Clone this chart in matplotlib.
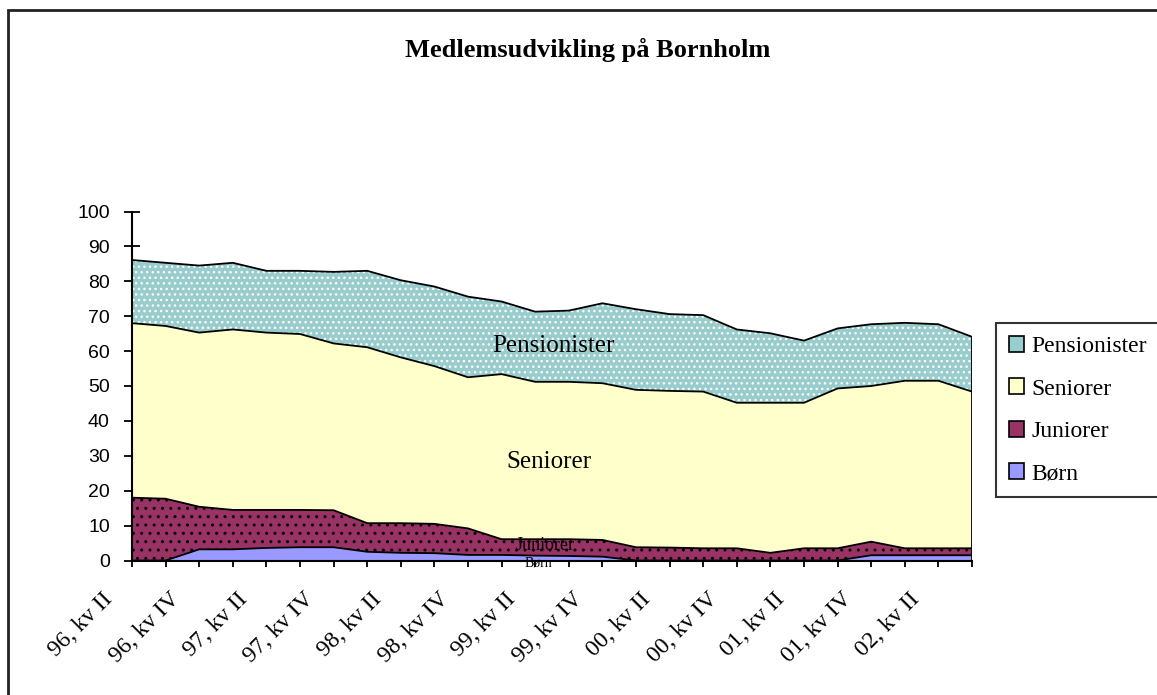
import numpy as np
import matplotlib
matplotlib.use("Agg")
import matplotlib.pyplot as plt
from matplotlib.patches import Patch, Rectangle
from matplotlib.transforms import ScaledTranslation

# ---------------- data ----------------
categories = [
    "96, kv II", "96, kv III", "96, kv IV",
    "97, kv I", "97, kv II", "97, kv III", "97, kv IV",
    "98, kv I", "98, kv II", "98, kv III", "98, kv IV",
    "99, kv I", "99, kv II", "99, kv III", "99, kv IV",
    "00, kv I", "00, kv II", "00, kv III", "00, kv IV",
    "01, kv I", "01, kv II", "01, kv III", "01, kv IV",
    "02, kv I", "02, kv II", "02, kv III",
]
born = [0.0, 0.0, 3.2, 3.2, 3.6, 3.8, 3.8, 2.5, 2.2, 2.1, 1.6, 1.6, 1.4,
        1.3, 1.1, 0.0, 0.0, 0.0, 0.0, 0.0, 0.0, 0.0, 1.5, 1.5, 1.5, 1.5]
juniorer = [18.0, 17.7, 12.2, 11.3, 10.9, 10.7, 10.6, 8.2, 8.5, 8.4, 7.6, 4.5, 4.7,
            4.8, 4.8, 3.8, 3.7, 3.5, 3.5, 2.2, 3.5, 3.5, 3.9, 2.0, 2.0, 2.0]
seniorer = [50.0, 49.5, 49.9, 51.7, 50.8, 50.4, 47.8, 50.4, 47.5, 45.2, 43.3, 47.3, 45.1,
            45.1, 44.9, 45.1, 44.9, 44.9, 41.7, 43.0, 41.7, 45.8, 44.6, 48.0, 48.0, 44.9]
pensionister = [18.1, 18.1, 19.2, 19.1, 17.7, 18.1, 20.5, 21.9, 22.1, 22.8, 23.1, 20.8, 20.1,
                20.4, 22.9, 23.1, 22.0, 21.9, 21.0, 19.9, 17.8, 17.2, 17.7, 16.6, 16.2, 15.7]
series_names = ["Børn", "Juniorer", "Seniorer", "Pensionister"]
yticks = list(range(0, 101, 10))
title = "Medlemsudvikling på Bornholm"

# ---------------- style ----------------
colors = ["#9999FF", "#993366", "#FFFFCC", "#99CCCC"]
hatches = [None, "..", None, "..."]
hatch_colors = [None, "black", None, "white"]
serif = ["Liberation Serif", "DejaVu Serif"]
sans = ["Liberation Sans", "DejaVu Sans"]

W, H = 1157, 695
fig = plt.figure(figsize=(W / 100, H / 100), dpi=100)
fig.patch.set_facecolor("white")
ax = fig.add_axes([132 / W, 1 - 560.5 / H, (972 - 132) / W, (560.5 - 211.5) / H])
ax.set_facecolor("none")

x = np.arange(len(categories))
stack = np.vstack([born, juniorer, seniorer, pensionister])
cum = stack.cumsum(axis=0)

for k in range(4):
    base = cum[k - 1] if k > 0 else np.zeros(len(x))
    top = cum[k]
    if hatches[k]:
        ax.fill_between(x, base, top, facecolor=colors[k], edgecolor=hatch_colors[k],
                        hatch=hatches[k], linewidth=0, zorder=2)
    else:
        ax.fill_between(x, base, top, facecolor=colors[k], linewidth=0, zorder=2)
for k in range(4):
    ax.plot(x, cum[k], color="black", lw=1.3, zorder=3, solid_joinstyle="miter")
ax.plot([x[-1], x[-1]], [0, cum[-1][-1]], color="black", lw=1.3, zorder=3)

ax.set_xlim(0, len(categories) - 1)
ax.set_ylim(0, 100)

for s in ["top", "right"]:
    ax.spines[s].set_visible(False)
for s in ["left", "bottom"]:
    ax.spines[s].set_linewidth(1.5)
    ax.spines[s].set_zorder(4)

ax.set_yticks(yticks)
ax.set_yticklabels([str(v) for v in yticks], fontfamily=sans, fontsize=14)
ax.tick_params(axis="y", direction="inout", length=11, width=1.3, pad=10.5)

ax.set_xticks(x)
ax.set_xticklabels([c if i % 2 == 0 else "" for i, c in enumerate(categories)],
                   fontfamily=serif, fontsize=17, rotation=45, ha="right", va="top")
ax.tick_params(axis="x", direction="out", length=4.5, width=1.3, pad=15.5)
offset = ScaledTranslation(-0.15, 0, fig.dpi_scale_trans)
for lab in ax.get_xticklabels():
    lab.set_transform(lab.get_transform() + offset)

# in-chart labels
ax.text(12.53, 61.5, "Pensionister", fontfamily=serif, fontsize=18, ha="center", va="center", zorder=5)
ax.text(12.41, 28.2, "Seniorer", fontfamily=serif, fontsize=18, ha="center", va="center", zorder=5)
ax.text(12.3, 4.4, "Juniorer", fontfamily=serif, fontsize=13, ha="center", va="center", zorder=5)
ax.text(12.1, -0.6, "Børn", fontfamily=serif, fontsize=10, ha="center", va="center", zorder=5)

# title
fig.text(588 / W, 1 - 50 / H, title, fontfamily=serif, fontweight="bold", fontsize=19,
         ha="center", va="center")

# legend
handles = [Patch(facecolor=colors[k], edgecolor="black", linewidth=1.2) for k in [3, 2, 1, 0]]
labels = [series_names[k] for k in [3, 2, 1, 0]]
leg = fig.legend(handles, labels, loc="upper left",
                 bbox_to_anchor=(996 / W, 1 - 492 / H, (1180 - 996) / W, (492 - 323) / H),
                 mode="expand", borderaxespad=0, fancybox=False, frameon=True,
                 prop={"family": serif, "size": 17}, handlelength=0.65, handleheight=0.65,
                 handletextpad=0.3, labelspacing=0.9, borderpad=0.55)
leg.get_frame().set_edgecolor("black")
leg.get_frame().set_linewidth(1.5)

# outer frame
fig.patches.append(Rectangle((8 / W, -0.2), 2.0, 1.2 - 10 / H, transform=fig.transFigure,
                             fill=False, edgecolor="#222222", linewidth=2, figure=fig))

fig.savefig("out.png", dpi=100)
